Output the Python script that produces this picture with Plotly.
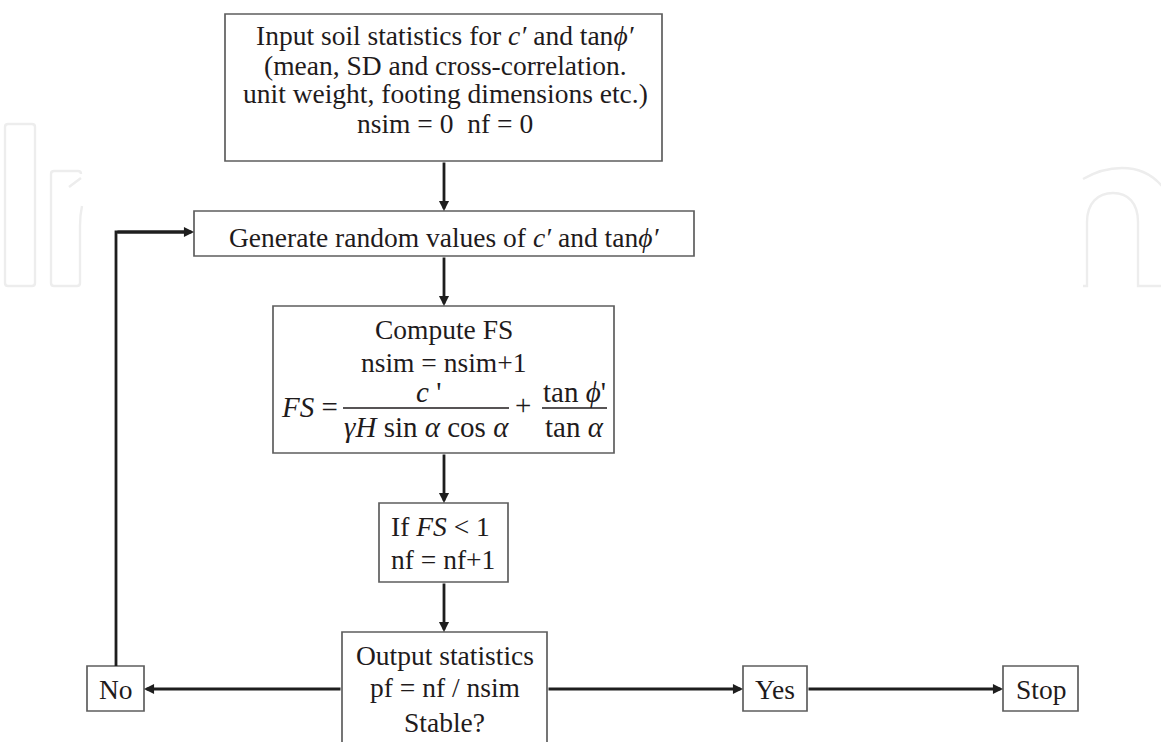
import plotly.graph_objects as go

# ---------------- data: node texts ----------------
input_lines = [
    "Input soil statistics for <i>c′</i> and tan<i>ϕ′</i>",
    "(mean, SD and cross-correlation.",
    "unit weight, footing dimensions etc.)",
    "nsim = 0 \u00a0nf = 0",
]
generate_label = "Generate random values of <i>c′</i> and tan<i>ϕ′</i>"
compute_lines = ["Compute FS", "nsim = nsim+1"]
formula_lhs = "<i>FS</i> ="
formula_num1 = "<i>c</i> '"
formula_den1 = "<i>γH</i> sin <i>α</i> cos <i>α</i>"
formula_plus = "+"
formula_num2 = "tan <i>ϕ</i>'"
formula_den2 = "tan <i>α</i>"
check_lines = ["If <i>FS</i> < 1", "nf = nf+1"]
output_lines = ["Output statistics", "pf = nf / nsim", "Stable?"]
no_label = "No"
yes_label = "Yes"
stop_label = "Stop"

# ---------------- layout geometry (pixels) ----------------
W, H = 1161, 742
TXT = "#1f1b1c"
BOX_LINE = "#5e5e5e"
ARROW = "#1e1e1e"
WM = "#ededed"
FONT = "Liberation Serif, Times New Roman, serif"
FS_MAIN = 27.5
FS_MATH = 29

boxes = {
    "input": (225, 14, 662, 161),
    "generate": (194, 211, 694, 256),
    "compute": (273, 306, 614, 453),
    "check": (379, 503, 508, 582),
    "output": (342, 632, 547, 760),
    "no": (87, 666, 144, 711),
    "yes": (743, 666, 807, 711),
    "stop": (1003, 666, 1078, 711),
}
CX = 444

fig = go.Figure()
fig.add_trace(go.Scatter(x=[0, W], y=[0, H], mode="markers",
                         marker=dict(opacity=0), hoverinfo="skip", showlegend=False))

shapes = []
annotations = []

# faint watermark outlines
wm_paths = [
    "M8,124 H32 Q35,124 35,127 V283 Q35,286 32,286 H8 Q5,286 5,283 V127 Q5,124 8,124 Z",
    "M82,206 Q80,215 80,226 V283 Q80,286 77,286 H54 Q51,286 51,283 V174 Q51,171 54,171 H78 Q81,171 81,174",
    "M69,187 L81,178",
    "M1083,286 H1087 V222 C1087,203 1098,193 1113,193 C1128,193 1138,203 1138,222 V286 H1165",
    "M1083,179 C1095,172 1108,168 1122,168 C1140,168 1155,176 1165,190",
]
for p in wm_paths:
    shapes.append(dict(type="path", path=p, xref="x", yref="y",
                       line=dict(color=WM, width=2.4), layer="below"))

# boxes
for key, (x0, y0, x1, y1) in boxes.items():
    shapes.append(dict(type="rect", xref="x", yref="y", x0=x0, y0=y0, x1=x1, y1=y1,
                       line=dict(color=BOX_LINE, width=1.7), fillcolor="white", layer="below"))

# loop-back line (No -> up -> Generate)
shapes.append(dict(type="path", xref="x", yref="y",
                   path="M116,666 V232 H186",
                   line=dict(color=ARROW, width=2.8)))

# fraction bars
shapes.append(dict(type="line", xref="x", yref="y", x0=343, x1=509, y0=408, y1=408,
                   line=dict(color=TXT, width=1.4)))
shapes.append(dict(type="line", xref="x", yref="y", x0=542, x1=607, y0=408, y1=408,
                   line=dict(color=TXT, width=1.4)))


def arrow(x0, y0, x1, y1):
    annotations.append(dict(x=x1, y=y1, ax=x0, ay=y0, xref="x", yref="y",
                            axref="x", ayref="y", text="", showarrow=True,
                            arrowhead=2, arrowsize=0.72, arrowwidth=2.8,
                            arrowcolor=ARROW, standoff=0))


arrow(CX, 161, CX, 211)
arrow(CX, 256, CX, 306)
arrow(CX, 453, CX, 503)
arrow(CX, 582, CX, 632)
arrow(342, 689, 144, 689)
arrow(547, 689, 743, 689)
arrow(807, 689, 1003, 689)
arrow(116, 232, 194, 232)


def label(text, x, y, size=FS_MAIN, xanchor="center"):
    annotations.append(dict(x=x, y=y, xref="x", yref="y", text=text, showarrow=False,
                            xanchor=xanchor, yanchor="middle", borderpad=0,
                            font=dict(family=FONT, size=size, color=TXT)))


for txt, yc in zip(input_lines, [35.7, 65.7, 93.7, 123.7]):
    label(txt, 445, yc)
label(generate_label, 444, 237)
for txt, yc in zip(compute_lines, [329, 362]):
    label(txt, 443.5, yc)
label(formula_lhs, 339, 407, size=FS_MATH, xanchor="right")
label(formula_num1, 428, 392, size=FS_MATH)
label(formula_den1, 426, 427, size=FS_MATH)
label(formula_plus, 523, 405, size=FS_MATH)
label(formula_num2, 574, 392, size=FS_MATH)
label(formula_den2, 574, 427, size=FS_MATH)
for txt, yc in zip(check_lines, [526, 559]):
    label(txt, 390, yc, xanchor="left")
for txt, yc in zip(output_lines, [655.7, 687.7, 722.7]):
    label(txt, 444.5, yc)
label(no_label, 115.5, 689.5)
label(yes_label, 775, 689.5)
label(stop_label, 1040.5, 689.5)

fig.update_layout(
    width=W, height=H,
    margin=dict(l=0, r=0, t=0, b=0),
    paper_bgcolor="white", plot_bgcolor="white",
    xaxis=dict(range=[0, W], visible=False, fixedrange=True),
    yaxis=dict(range=[H, 0], visible=False, fixedrange=True),
    shapes=shapes, annotations=annotations, showlegend=False,
)
fig.write_html(
    "out.html",
    config={"displayModeBar": False},
    post_script="document.body.style.margin='0';document.body.style.padding='0';"
                "document.body.style.overflow='hidden';",
)
